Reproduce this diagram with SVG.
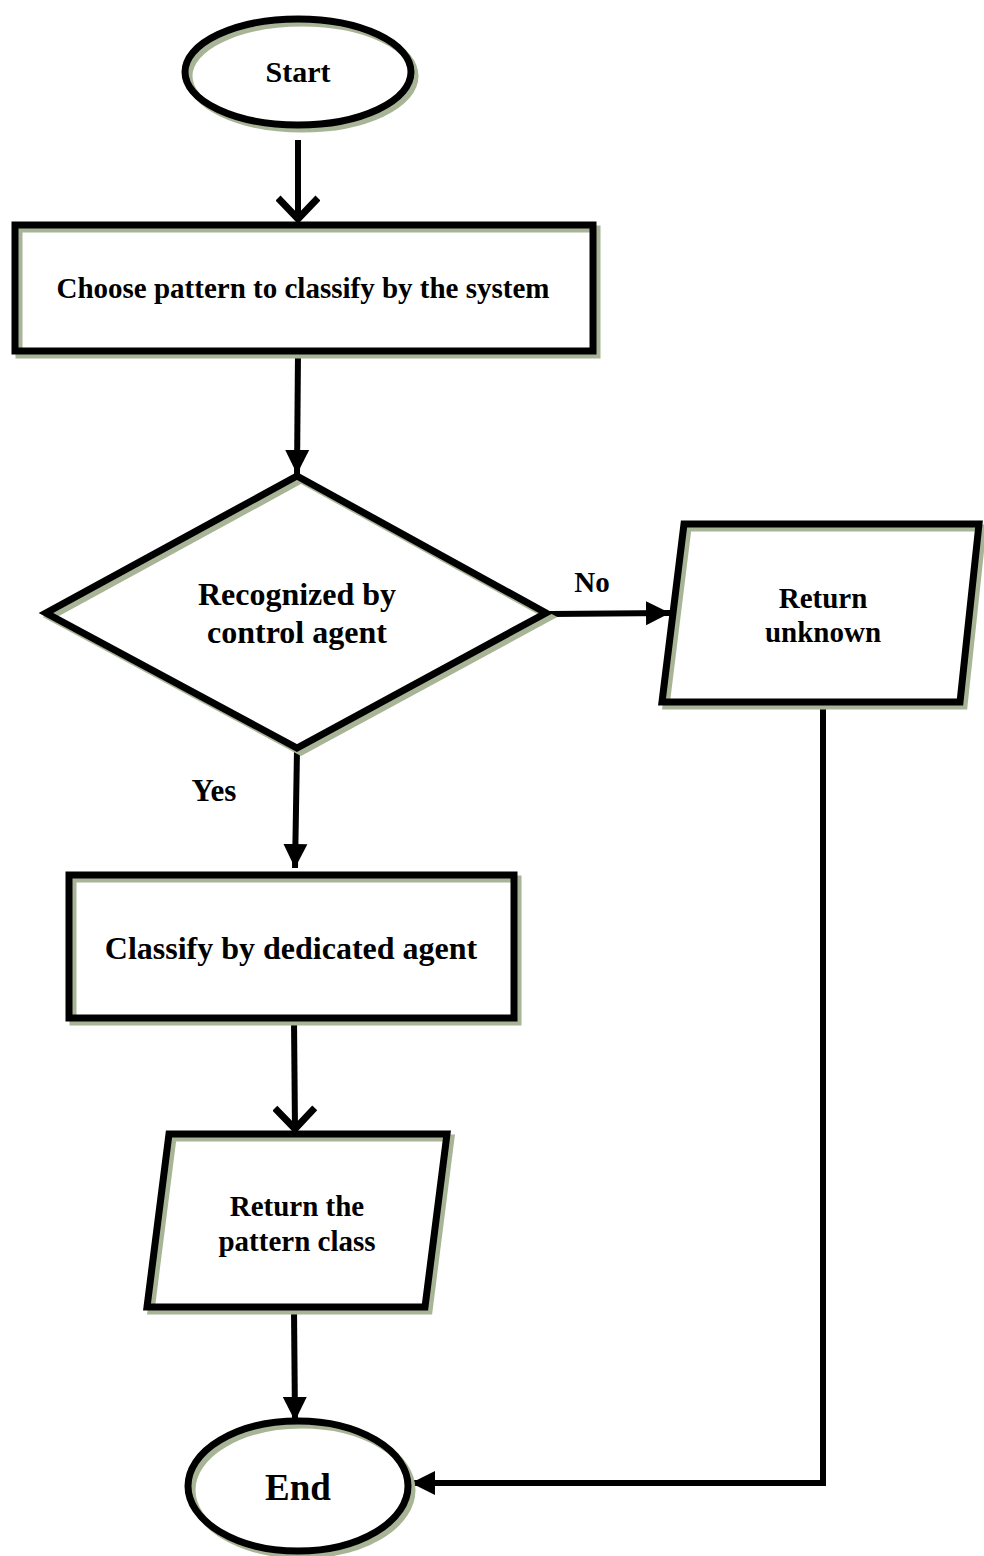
<svg xmlns="http://www.w3.org/2000/svg" width="984" height="1556" viewBox="0 0 984 1556">
<defs>
<style>
.sh{fill:none;stroke:#a8b496;stroke-width:7;stroke-linejoin:miter}
.bx{fill:none;stroke:#000;stroke-width:7;stroke-linejoin:miter}
.bg{fill:#fff;stroke:none}
.t{font-family:"Liberation Serif","Times New Roman",serif;font-weight:bold;font-size:29px;fill:#000;text-anchor:middle}
.ln{fill:none;stroke:#000;stroke-width:6}
</style>
<marker id="tri" markerUnits="userSpaceOnUse" markerWidth="26" markerHeight="26" viewBox="0 0 26 26" refX="24" refY="13" orient="auto">
<path d="M0,1 L24,13 L0,25 Z" fill="#000"/>
</marker>
<marker id="vee" markerUnits="userSpaceOnUse" markerWidth="40" markerHeight="44" viewBox="0 0 40 44" refX="34" refY="22" orient="auto">
<path d="M12,2 L33,22 L12,42" fill="none" stroke="#000" stroke-width="7"/>
</marker>
</defs>
<rect width="984" height="1556" fill="#fff"/>
<g id="connectors">
<line class="ln" x1="298" y1="140" x2="298" y2="220" marker-end="url(#vee)"/>
<line class="ln" x1="298" y1="352" x2="297" y2="474" marker-end="url(#tri)"/>
<line class="ln" x1="550" y1="614" x2="670" y2="613" marker-end="url(#tri)"/>
<text class="t" x="592" y="592">No</text>
<line class="ln" x1="297" y1="750" x2="295" y2="868" marker-end="url(#tri)"/>
<text class="t" x="214" y="801" style="font-size:31px">Yes</text>
<line class="ln" x1="294" y1="1020" x2="295" y2="1130" marker-end="url(#vee)"/>
<line class="ln" x1="294" y1="1310" x2="295" y2="1421" marker-end="url(#tri)"/>
<polyline class="ln" points="823,705 823,1483 411,1483" marker-end="url(#tri)"/>
</g>
<g id="start">
<ellipse class="bg" cx="298" cy="72" rx="113" ry="53"/>
<ellipse class="sh" cx="302" cy="76" rx="113" ry="53"/>
<ellipse class="bx" cx="298" cy="72" rx="113" ry="53"/>
<text class="t" x="298" y="82" style="font-size:30px">Start</text>
</g>
<g id="choose">
<rect class="bg" x="15" y="225" width="578" height="126"/>
<rect class="sh" x="19" y="229" width="578" height="126"/>
<rect class="bx" x="15" y="225" width="578" height="126"/>
<text class="t" x="303" y="298">Choose pattern to classify by the system</text>
</g>
<g id="decision">
<polygon class="bg" points="297,476 546,613 297,748 46,613"/>
<polygon class="sh" points="301,480 550,617 301,752 50,617"/>
<polygon class="bx" points="297,476 546,613 297,748 46,613"/>
<text class="t" x="297" y="605" style="font-size:32px">Recognized by</text>
<text class="t" x="297" y="643" style="font-size:32px">control agent</text>
</g>
<g id="unknown">
<polygon class="bg" points="684,524 979,524 960,702 662,702"/>
<polygon class="sh" points="688,528 983,528 964,706 666,706"/>
<polygon class="bx" points="684,524 979,524 960,702 662,702"/>
<text class="t" x="823" y="608">Return</text>
<text class="t" x="823" y="642">unknown</text>
</g>
<g id="classify">
<rect class="bg" x="69" y="875" width="445" height="143"/>
<rect class="sh" x="73" y="879" width="445" height="143"/>
<rect class="bx" x="69" y="875" width="445" height="143"/>
<text class="t" x="291" y="959" style="font-size:32px">Classify by dedicated agent</text>
</g>
<g id="returnclass">
<polygon class="bg" points="169,1134 447,1134 425,1307 147,1307"/>
<polygon class="sh" points="173,1138 451,1138 429,1311 151,1311"/>
<polygon class="bx" points="169,1134 447,1134 425,1307 147,1307"/>
<text class="t" x="297" y="1216">Return the</text>
<text class="t" x="297" y="1251">pattern class</text>
</g>
<g id="end">
<ellipse class="bg" cx="298" cy="1486" rx="110" ry="65"/>
<ellipse class="sh" cx="302" cy="1490" rx="110" ry="65"/>
<ellipse class="bx" cx="298" cy="1486" rx="110" ry="65"/>
<text class="t" x="298" y="1500" style="font-size:37px">End</text>
</g>
</svg>
